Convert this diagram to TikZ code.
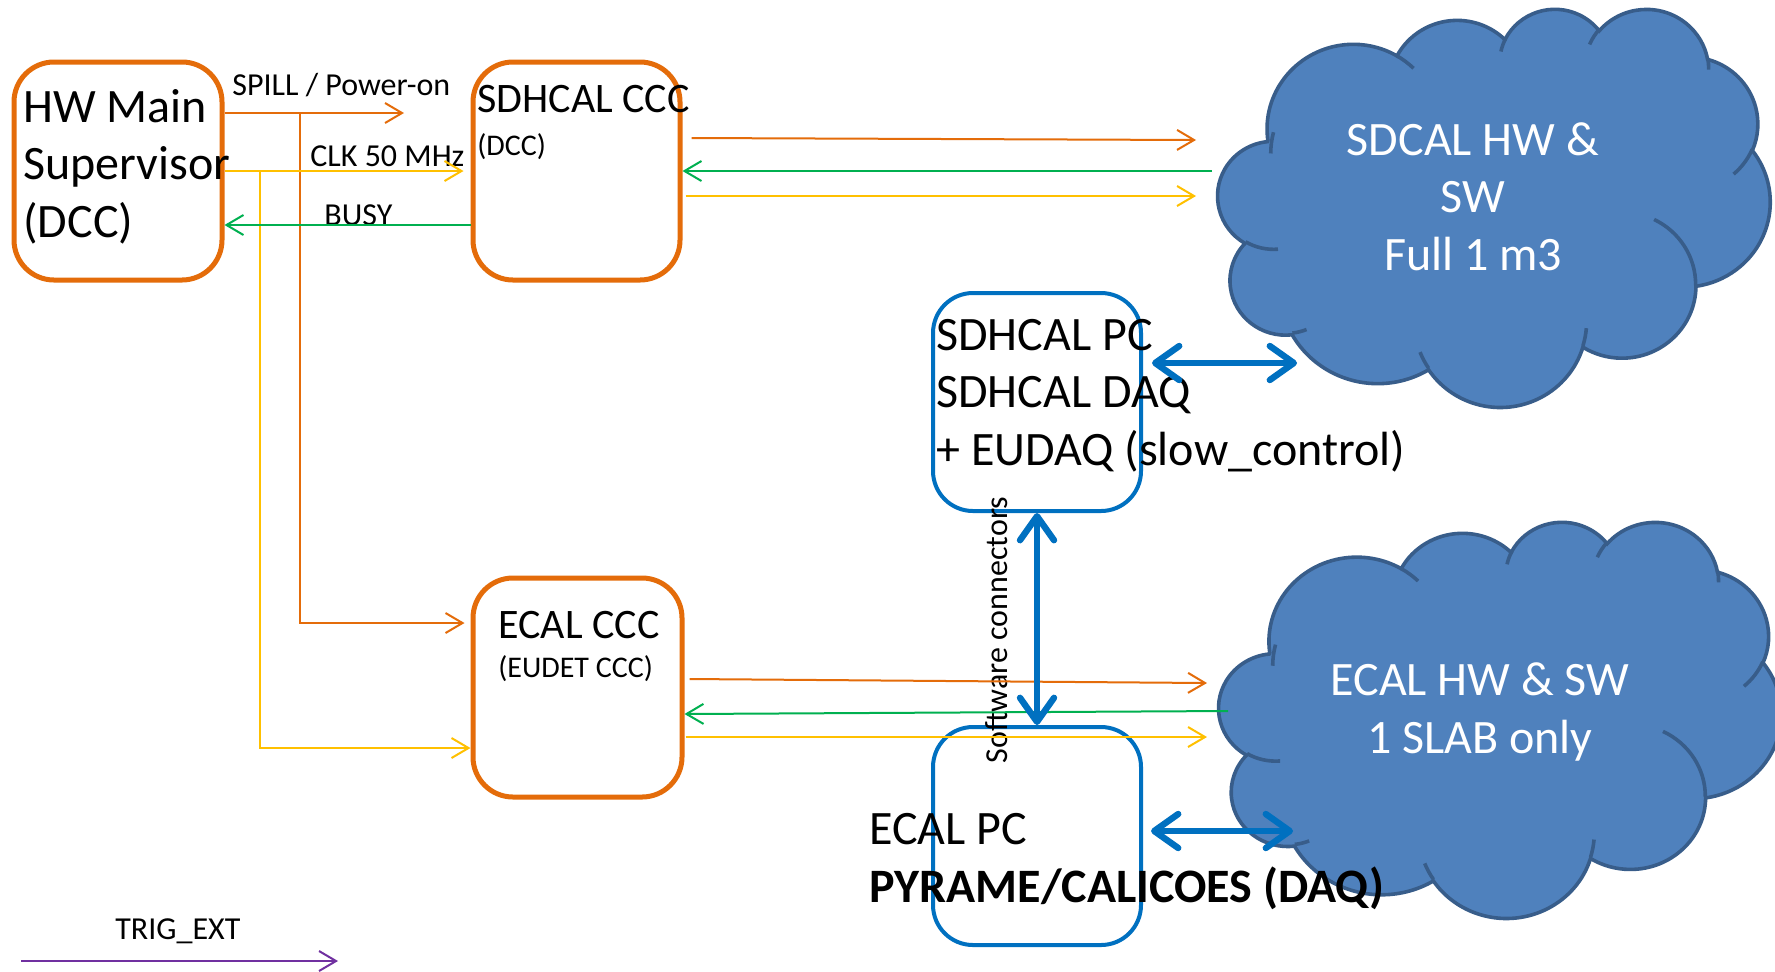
\documentclass[tikz,border=0pt]{standalone}
\usepackage{fontspec}
\setmainfont{Carlito}
\usetikzlibrary{arrows.meta}
\definecolor{orgC}{HTML}{E46C0A}
\definecolor{yelC}{HTML}{FFC000}
\definecolor{grnC}{HTML}{00B050}
\definecolor{bluC}{HTML}{0070C0}
\definecolor{cldF}{HTML}{4F81BD}
\definecolor{cldB}{HTML}{385D8A}
\definecolor{purC}{HTML}{7030A0}
\newcommand{\pptcloudshape}{%
 \path[cloudsty] (39.00,143.70)
 arc[start angle=-187.75, end angle=-59.64, x radius=67.53, y radius=91.90]
 arc[start angle=-152.02, end angle=-45.43, x radius=53.33, y radius=72.67]
 arc[start angle=-153.49, end angle=-37.32, x radius=43.65, y radius=59.45]
 arc[start angle=-139.69, end angle=-10.21, x radius=48.57, y radius=65.95]
 arc[start angle=-74.77, end angle=23.21, x radius=53.33, y radius=72.73]
 arc[start angle=-37.52, end angle=81.86, x radius=67.75, y radius=92.20]
 arc[start angle=0.46, end angle=121.98, x radius=57.85, y radius=78.67]
 arc[start angle=16.84, end angle=146.24, x radius=67.52, y radius=92.15]
 arc[start angle=58.99, end angle=150.20, x radius=77.20, y radius=105.43]
 arc[start angle=-276.69, end angle=-136.91, x radius=43.60, y radius=59.18]
 arc[start angle=-239.64, end angle=-95.89, x radius=43.45, y radius=59.45]
 -- cycle;
 \path[cloudin]
 (46.93,261.77) arc[start angle=85.55, end angle=120.36, x radius=43.45, y radius=59.45]
 (69.28,348.99) arc[start angle=68.23, end angle=83.31, x radius=43.60, y radius=59.18]
 (164.78,390.90) arc[start angle=146.24, end angle=158.47, x radius=67.52, y radius=92.15]
 (288.27,347.51) arc[start angle=4.74, end angle=16.84, x radius=67.52, y radius=92.15]
 (341.29,229.54) arc[start angle=-64.03, end angle=0.46, x radius=57.85, y radius=78.67]
 (417.98,153.54) arc[start angle=23.21, end angle=49.64, x radius=53.33, y radius=72.73]
 (383.24,54.26) arc[start angle=-10.21, end angle=0.82, x radius=48.57, y radius=65.95]
 (290.78,39.52) arc[start angle=-156.29, end angle=-139.69, x radius=48.57, y radius=65.95]
 (221.41,47.20) arc[start angle=-167.73, end angle=-153.49, x radius=43.65, y radius=59.45]
 (140.00,51.92) arc[start angle=-59.64, end angle=-45.71, x radius=67.53, y radius=91.90]
 (41.27,157.89) arc[start angle=180, end angle=194.53, x radius=67.53, y radius=91.90];
}
\begin{document}
\begin{tikzpicture}[x=0.5pt,y=-0.5pt,
  obox/.style={draw=orgC,line width=2.5pt,rounded corners=20pt,minimum width=104pt,minimum height=109pt,inner sep=0pt},
  bbox/.style={draw=bluC,line width=2pt,rounded corners=20pt,minimum width=104pt,minimum height=109pt,inner sep=0pt},
  txtbig/.style={font=\fontsize{24}{28.75}\selectfont,inner sep=0pt,anchor=base west,align=left},
  txtmid/.style={font=\fontsize{21}{25}\selectfont,inner sep=0pt,anchor=base west},
  txtsml/.style={font=\fontsize{15}{18}\selectfont,inner sep=0pt,anchor=base west},
  txtlbl/.style={font=\fontsize{16}{19}\selectfont,inner sep=0pt,anchor=base west},
  sigline/.style={line width=1pt,-{Straight Barb[length=8.5pt,width=10pt]}},
  swlink/.style={draw=bluC,line width=3.2pt,line cap=round,{Straight Barb[length=12pt,width=17pt,round]}-{Straight Barb[length=12pt,width=17pt,round]}},
  cloudsty/.style={fill=cldF,draw=cldB,line width=1.8pt},
  cloudin/.style={draw=cldB,line width=1.8pt},
  ctxt/.style={font=\fontsize{24}{28.75}\selectfont,text=white,inner sep=0pt,anchor=base,align=center}
]
\useasboundingbox (0,0) rectangle (1775,971);
\fill[white] (0,0) rectangle (1775,971);

% clouds
\begin{scope}[shift={(1218,8)},x=0.63889pt,y=-0.46065pt]
  \pptcloudshape
\end{scope}
\begin{scope}[shift={(1219,521)},x=0.65046pt,y=-0.45833pt]
  \pptcloudshape
\end{scope}
\node[ctxt] (c1t) at (1473,270) {SDCAL HW \&\\SW\\Full 1 m3};
\node[ctxt] (c2t) at (1480,753) {ECAL HW \& SW\\1 SLAB only};

% boxes
\node[obox] (hw) at (118,171) {};
\node[obox,minimum width=103.5pt] (sdccc) at (576.5,171) {};
\node[obox,minimum width=104.5pt,minimum height=109.5pt] (eccc) at (577.5,687.5) {};
\node[bbox] (sdpc) at (1037,402) {};
\node[bbox] (ecpc) at (1037,836) {};

% texts in boxes
\node[txtbig] (hwt) at (23,237) {HW Main\\Supervisor\\(DCC)};
\node[txtmid] (sdccct) at (477,112) {SDHCAL CCC};
\node[txtsml] (sdcccs) at (477,155) {(DCC)};
\node[txtmid] (eccct) at (498,638) {ECAL CCC};
\node[txtsml] (ecccs) at (498,677) {(EUDET CCC)};
\node[txtbig] (sdpct) at (936,465) {SDHCAL PC\\SDHCAL DAQ\\+ EUDAQ (slow\_control)};
\node[txtbig] (ecpct) at (869,902) {ECAL PC\\\textbf{PYRAME/CALICOES (DAQ)}};

% labels
\node[txtlbl] (spill) at (232,95) {SPILL / Power-on};
\node[txtlbl] (clk) at (310,166) {CLK 50 MHz};
\node[txtlbl] (busy) at (324,225) {BUSY};
\node[txtlbl] (trig) at (115,939) {TRIG\_EXT};
\node[font=\fontsize{16}{19}\selectfont,inner sep=0pt,anchor=base,rotate=90] (swc) at (1007,630) {Software connectors};

% free ends
\coordinate (spilltip) at (404,113);
\coordinate (jo) at (300,113);
\coordinate (jy) at (260,171);
\coordinate (c1o) at (1196,140);
\coordinate (c1g) at (1212,171);
\coordinate (c1y) at (1196,196);
\coordinate (c2o) at (1207,683);
\coordinate (c2g) at (1228,711);
\coordinate (c2y) at (1207,737);
\coordinate (c1b) at (1297,363);
\coordinate (c2b) at (1293,831);
\coordinate (trs) at (21,961);
\coordinate (tre) at (338,961);

% HW supervisor signals
\draw[sigline,orgC] (hw.east |- jo) -- (spilltip);
\draw[sigline,orgC] (jo) -- (300,623) -- ([xshift=-3pt]eccc.west |- 0,623);
\draw[sigline,yelC] (hw.east |- jy) -- ([xshift=-3.5pt]sdccc.west |- jy);
\draw[sigline,yelC] (jy) -- (260,748) -- (eccc.west |- 0,748);
\draw[sigline,grnC] (sdccc.west |- 0,225) -- (hw.east |- 0,225);

% SDHCAL CCC <-> cloud
\draw[sigline,orgC] ([xshift=4.5pt]sdccc.east |- 0,138) -- (c1o);
\draw[sigline,grnC] (c1g) -- (sdccc.east |- c1g);
\draw[sigline,yelC] ([xshift=1.5pt]sdccc.east |- c1y) -- (c1y);

% ECAL CCC <-> cloud
\draw[sigline,orgC] ([xshift=2.5pt]eccc.east |- 0,679) -- (c2o);
\draw[sigline,grnC] (c2g) -- (eccc.east |- 0,714);
\draw[sigline,yelC] ([xshift=0.5pt]eccc.east |- c2y) -- (c2y);

% software links
\draw[swlink] ([xshift=4.5pt]sdpc.east |- c1b) -- (c1b);
\draw[swlink] (sdpc.south) -- (ecpc.north);
\draw[swlink] ([xshift=4pt]ecpc.east |- c2b) -- (c2b);

% trig
\draw[sigline,purC] (trs) -- (tre);
\end{tikzpicture}
\end{document}
